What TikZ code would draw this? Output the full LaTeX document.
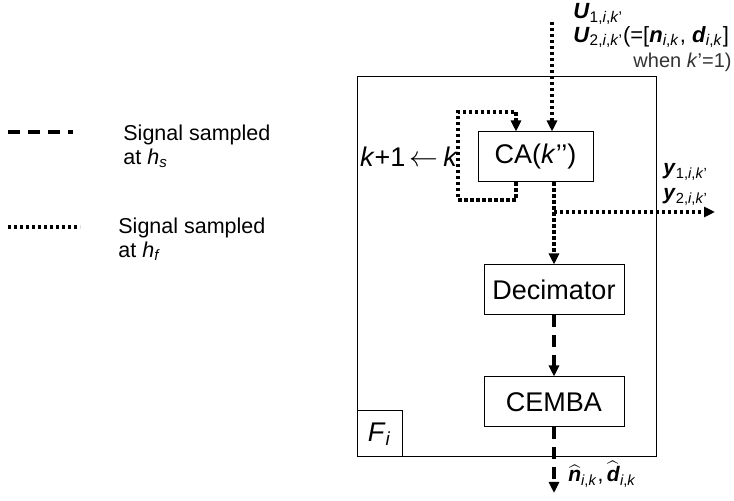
\documentclass[tikz,border=0pt]{standalone}
\usepackage{fontspec}
\setmainfont{Liberation Sans}
\usetikzlibrary{arrows.meta, positioning}
\newcommand{\bi}[1]{\textbf{\textit{#1}}}
\newcommand{\subs}[1]{\textsubscript{#1}}

\begin{document}
\begin{tikzpicture}[x=0.5pt, y=-0.5pt,
    font=\fontsize{13.5}{16}\selectfont,
    blk/.style={draw, line width=0.5pt, minimum width=70pt, minimum height=25pt, inner sep=0pt},
    fastsig/.style={line width=1.6pt, dash pattern=on 1.6pt off 1.4pt},
    slowsig/.style={line width=1.6pt, dash pattern=on 6pt off 4pt},
    tip/.style={-{Triangle[length=5.5pt, width=5pt]}},
    lbl/.style={font=\fontsize{10.5}{12}\selectfont, inner sep=0pt},
    leg/.style={font=\fontsize{10.75}{12}\selectfont, inner sep=0pt, align=left}
]
\useasboundingbox (0,0) rectangle (734,501);

% legend
\coordinate (ls1) at (8,132);  \coordinate (ls2) at (73,132);
\coordinate (lf1) at (8,227);  \coordinate (lf2) at (80,227);
\draw[slowsig] (ls1) -- (ls2);
\draw[fastsig] (lf1) -- (lf2);
\node[leg, anchor=west] (slowtxt) at (123,146) {Signal sampled\\at \textit{h}\subs{\textit{s}}};
\node[leg, anchor=west] (fasttxt) at (118,239) {Signal sampled\\at \textit{h}\subs{\textit{f}}};

% filter block
\node[draw, line width=0.5pt, minimum width=149.5pt, minimum height=190pt, inner sep=0pt] (frame) at (506.5,267) {};
\node[draw, line width=0.5pt, anchor=south west, minimum width=22.5pt, minimum height=23pt, inner sep=0pt] (fi) at (frame.south west) {\textit{F}\subs{\textit{i}}};
\node[blk, minimum width=57.5pt] (ca) at (535.5,157) {CA(\textit{k}’’)};
\node[blk] (dec)   at (554,290) {Decimator};
\node[blk] (cemba) at (554,402) {CEMBA};
\node[inner sep=0pt] (kk) at (409,157) {\textit{k}+1\,$\leftarrow$\,\textit{k}};

% signals
\coordinate (uin)  at (552,22);
\coordinate (lpd)  at (516,200);
\coordinate (lpu)  at (458,112);
\coordinate (br)   at (554,212);
\coordinate (yout) at (715,212);
\coordinate (est)  at (554,493);
\draw[fastsig, tip] (uin) -- (uin |- ca.north);
\draw[fastsig, tip] (lpd |- ca.south) -- (lpd) -| (lpu) -| (lpd |- ca.north);
\draw[fastsig, tip] (dec.north |- ca.south) -- (dec.north);
\draw[fastsig, tip] (br) -- (yout);
\draw[slowsig, tip] (dec) -- (cemba);
\draw[slowsig, tip] (cemba) -- (est);

% labels
\node[lbl, anchor=west, font=\fontsize{11}{12}\selectfont] (u1) at (573,14) {\bi{U}\subs{1,\textit{i},\textit{k}’}};
\node[lbl, anchor=west, font=\fontsize{11}{12}\selectfont] (u2) at (573,37) {\bi{U}\subs{2,\textit{i},\textit{k}’}(=[\bi{n}\subs{\textit{i},\textit{k}}, \bi{d}\subs{\textit{i},\textit{k}}]};
\node[lbl, anchor=east, font=\fontsize{10}{12}\selectfont, text=black!80] (when) at (732,62) {when \textit{k}’=1)};
\node[lbl, anchor=base west] (y1) at (663,175) {\bi{y}\subs{1,\textit{i},\textit{k}’}};
\node[lbl, anchor=base west] (y2) at (663,200) {\bi{y}\subs{2,\textit{i},\textit{k}’}};
\node[lbl, anchor=base west] (estlbl) at (568,482) {$\widehat{\mbox{\bi{n}}}$\subs{\textit{i},\textit{k}},\,$\widehat{\mbox{\bi{d}}}$\subs{\textit{i},\textit{k}}};
\end{tikzpicture}
\end{document}
